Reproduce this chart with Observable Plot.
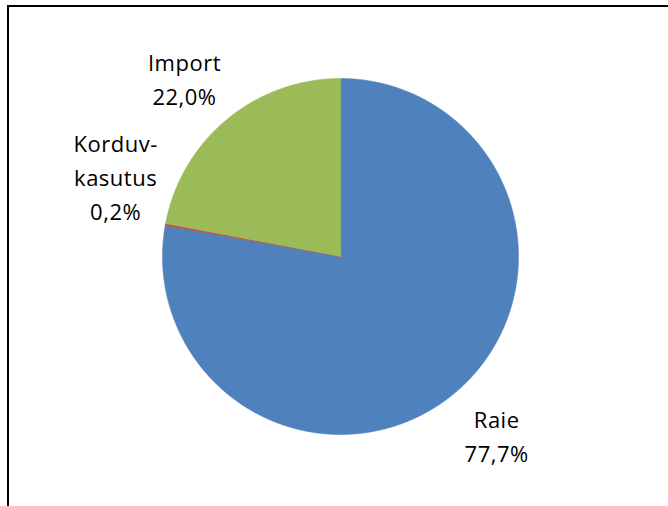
<!DOCTYPE html>
<html><head><meta charset="utf-8">
<script src="https://cdn.jsdelivr.net/npm/d3@7"></script>
<script src="https://cdn.jsdelivr.net/npm/@observablehq/plot@0.6"></script>
<style>
html,body{margin:0;padding:0;background:#fff;}
#wrap{position:relative;width:668px;height:506px;overflow:hidden;background:#fff;}
#frame{position:absolute;left:7px;top:5px;width:700px;height:600px;border-top:2px solid #000;border-left:2px solid #000;}
#chart{position:absolute;left:0;top:0;}
#chart text{letter-spacing:0.5px;}
</style></head><body>
<div id="wrap"><div id="frame"></div><div id="chart"></div></div>
<script>
const categories = ["Raie", "Korduvkasutus", "Import"];
const nameLabels = ["Raie", "Korduv-\nkasutus", "Import"];
const shares = [77.7, 0.2, 22.0];
const percentLabels = ["77,7%", "0,2%", "22,0%"];
const colors = ["#4F81BD", "#C0504D", "#9BBB59"];

const pie = d3.pie().sort(null).startAngle(0).endAngle(2 * Math.PI)(shares);

const outline = [];
pie.forEach((p, i) => {
  const n = Math.max(2, Math.ceil((p.endAngle - p.startAngle) / 0.004));
  outline.push({slice: categories[i], x: 0, y: 0});
  for (let k = 0; k <= n; k++) {
    const a = p.startAngle + (p.endAngle - p.startAngle) * k / n;
    outline.push({slice: categories[i], x: Math.sin(a), y: Math.cos(a)});
  }
  outline.push({slice: categories[i], x: 0, y: 0});
});

const labelR = 1.33;
const labelRows = pie.map((p, i) => {
  const a = (p.startAngle + p.endAngle) / 2;
  return {slice: categories[i], text: nameLabels[i] + "\n" + percentLabels[i], x: labelR * Math.sin(a), y: labelR * Math.cos(a)};
});

const textOpts = {x: "x", y: "y", text: "text", fontSize: 22, lineHeight: 1.55, fill: "#000"};
const only = (name) => labelRows.filter(d => d.slice === name);

const chart = Plot.plot({
  width: 668,
  height: 506,
  marginLeft: 162,
  marginRight: 150,
  marginTop: 78,
  marginBottom: 72,
  x: {domain: [-1, 1], axis: null},
  y: {domain: [-1, 1], axis: null},
  color: {domain: categories, range: colors},
  style: {fontFamily: "'Open Sans', sans-serif", background: "transparent", overflow: "visible"},
  marks: [
    Plot.line(outline, {x: "x", y: "y", z: "slice", fill: "slice", stroke: "slice", strokeWidth: 0.6}),
    Plot.text(only("Raie"), {...textOpts, dx: 4, dy: -4}),
    Plot.text(only("Import"), {...textOpts, dx: -5, dy: 3}),
    Plot.text(only("Korduvkasutus"), {...textOpts, dx: 8, dy: -39})
  ]
});
document.getElementById("chart").appendChild(chart);
</script>
</body></html>
